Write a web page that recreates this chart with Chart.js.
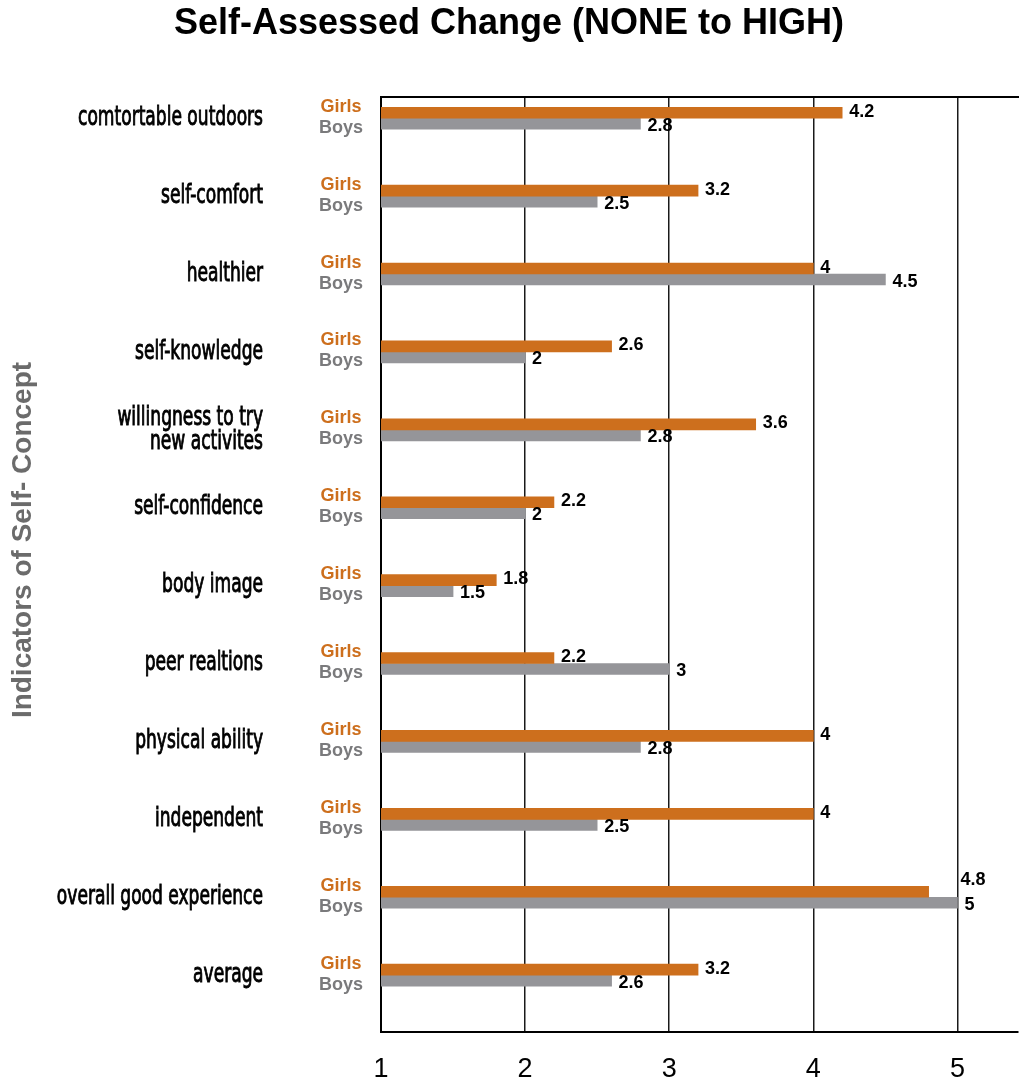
<!DOCTYPE html>
<html>
<head>
<meta charset="utf-8">
<script src="https://cdn.jsdelivr.net/npm/chart.js@4"></script>
<style>
  html, body { margin: 0; padding: 0; background: #fff; overflow: hidden; }
  canvas { display: block; }
</style>
</head>
<body>
<canvas id="selfConceptCanvas" width="1019" height="1082"></canvas>
<script>
// chart data
const categories = [
    'comtortable outdoors',
    'self-comfort',
    'healthier',
    'self-knowledge',
    ['willingness to try', 'new activites'],
    'self-confidence',
    'body image',
    'peer realtions',
    'physical ability',
    'independent',
    'overall good experience',
    'average'
];
const girlsValues = [4.2, 3.2, 4, 2.6, 3.6, 2.2, 1.8, 2.2, 4, 4, 4.8, 3.2];
const boysValues = [2.8, 2.5, 4.5, 2, 2.8, 2, 1.5, 3, 2.8, 2.5, 5, 2.6];
const seriesNames = ['Girls', 'Boys'];
const xTickValues = [1, 2, 3, 4, 5];

const ORANGE = '#cd6f1d';
const GRAY = '#959599';
const BOYS_TEXT = '#7a7a7c';

// rows sit on a linear index axis (top row = 0)
const toRows = values => values.map((v, i) => ({ x: v, y: i }));

//---------------------- PLUGINS

// category names, drawn narrow like the condensed face of the original
const categoryLabels = {
    id: 'categoryLabels',
    afterDraw(chart) {
        const ctx = chart.ctx;
        const yScale = chart.scales.y;
        ctx.save();
        ctx.font = '26px "DejaVu Sans Condensed", "DejaVu Sans", sans-serif';
        const squeeze = 185 / ctx.measureText('comtortable outdoors').width;
        ctx.fillStyle = '#000';
        ctx.strokeStyle = '#000';
        ctx.lineWidth = 0.9;
        ctx.textAlign = 'right';
        ctx.textBaseline = 'middle';
        categories.forEach((label, i) => {
            const lines = Array.isArray(label) ? label : [label];
            const yc = yScale.getPixelForValue(i);
            lines.forEach((line, li) => {
                const y = yc + (li - (lines.length - 1) / 2) * 24;
                ctx.save();
                ctx.translate(263, y);
                ctx.scale(squeeze, 1);
                ctx.fillText(line, 0, 0);
                ctx.strokeText(line, 0, 0);
                ctx.restore();
            });
        });
        ctx.restore();
    }
};

// small series names next to each bar pair + value labels at bar ends
const barLabels = {
    id: 'barLabels',
    afterDatasetsDraw(chart) {
        const ctx = chart.ctx;
        const girlsMeta = chart.getDatasetMeta(0);
        const boysMeta = chart.getDatasetMeta(1);
        ctx.save();
        chart.data.datasets.forEach((ds, di) => {
            const meta = chart.getDatasetMeta(di);
            meta.data.forEach((bar, i) => {
                // series name on the left of the axis
                ctx.font = 'bold 18px "Liberation Sans", Arial, sans-serif';
                ctx.textAlign = 'center';
                ctx.textBaseline = 'middle';
                ctx.fillStyle = di === 0 ? ORANGE : BOYS_TEXT;
                ctx.fillText(seriesNames[di], 341, bar.y + (di === 0 ? -6 : 4));
                // value at the bar end
                const text = String(ds.data[i].x);
                ctx.textAlign = 'left';
                ctx.fillStyle = '#000';
                let x = bar.x + 7;
                let y = bar.y + (di === 0 ? -1 : 2);
                if (di === 0) {
                    // girls label would run into a longer boys bar: lift it past that bar's end
                    const boysEnd = boysMeta.data[i].x;
                    const w = ctx.measureText(text).width;
                    if (boysEnd > bar.x && boysEnd < x + w) {
                        x = boysEnd + 3;
                        y = bar.y - 12;
                    }
                }
                ctx.fillText(text, x, y);
            });
        });
        ctx.restore();
    }
};

// rotated y-axis caption
const sideTitle = {
    id: 'sideTitle',
    afterDraw(chart) {
        const ctx = chart.ctx;
        ctx.save();
        ctx.translate(23, 540);
        ctx.rotate(-Math.PI / 2);
        ctx.font = 'bold 28px "Liberation Sans", Arial, sans-serif';
        ctx.fillStyle = '#6b6b6b';
        ctx.textAlign = 'center';
        ctx.textBaseline = 'middle';
        ctx.fillText('Indicators of Self- Concept', 0, 0);
        ctx.restore();
    }
};

//---------------------- CHART

const myChart = new Chart(document.getElementById('selfConceptCanvas').getContext('2d'), {
    type: 'bar',
    data: {
        datasets: [
            {
                label: seriesNames[0],
                data: toRows(girlsValues),
                backgroundColor: ORANGE,
                barThickness: 11
            },
            {
                label: seriesNames[1],
                data: toRows(boysValues),
                backgroundColor: GRAY,
                barThickness: 11
            }
        ]
    },
    options: {
        indexAxis: 'y',
        responsive: false,
        animation: false,
        devicePixelRatio: 1,
        layout: {
            padding: { top: 0, left: 0, right: 1, bottom: 0 }
        },
        plugins: {
            legend: { display: false },
            tooltip: { enabled: false },
            title: {
                display: true,
                text: 'Self-Assessed Change (NONE to HIGH)',
                color: '#000',
                font: { family: '"Liberation Sans", Arial, sans-serif', size: 36, weight: 'bold' },
                padding: { top: 2, bottom: 52 }
            }
        },
        scales: {
            x: {
                type: 'linear',
                position: 'bottom',
                min: 1,
                max: 5.42,
                afterBuildTicks: scale => {
                    scale.ticks = xTickValues.map(v => ({ value: v }));
                },
                afterFit: scale => { scale.height = 50; },
                ticks: {
                    color: '#000',
                    padding: 21,
                    font: { family: '"Liberation Sans", Arial, sans-serif', size: 27 }
                },
                grid: {
                    color: '#1a1a1a',
                    lineWidth: 1.5,
                    drawTicks: false
                },
                border: { display: true, color: '#000', width: 2 }
            },
            xTop: {
                type: 'linear',
                position: 'top',
                min: 1,
                max: 5.42,
                afterFit: scale => { scale.height = 0; },
                ticks: { display: false },
                grid: { display: false, drawTicks: false },
                border: { display: true, color: '#000', width: 2 }
            },
            y: {
                type: 'linear',
                reverse: true,
                offset: false,
                min: -0.27,
                max: 11.73,
                afterFit: scale => { scale.width = 381; },
                ticks: { display: false },
                grid: { display: false, drawTicks: false },
                border: { display: true, color: '#000', width: 2 }
            }
        }
    },
    plugins: [categoryLabels, barLabels, sideTitle]
});
</script>
</body>
</html>
